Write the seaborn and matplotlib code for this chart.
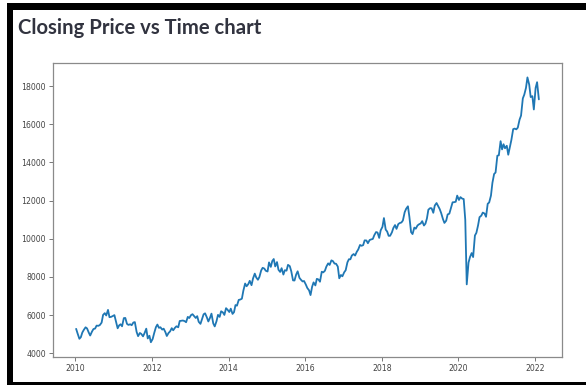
import pandas as pd
import matplotlib
matplotlib.use("Agg")
import matplotlib.pyplot as plt
import matplotlib.dates as mdates
from matplotlib.patches import Rectangle
import seaborn as sns

# Index closing levels, two readings per month (around the 8th and the 22nd)
close_2010 = [5280, 5036, 4760, 4844, 5088, 5225, 5361, 5304, 5090, 4931, 5135, 5269,
              5296, 5449, 5440, 5479, 5607, 6009, 6103, 5982, 6273, 5890, 5910, 5947]
close_2011 = [6000, 5697, 5310, 5459, 5521, 5414, 5842, 5851, 5542, 5486, 5521, 5471,
              5613, 5633, 5118, 4898, 5064, 5012, 4888, 5049, 5290, 4778, 4920, 4580]
close_2012 = [4750, 5048, 5369, 5505, 5333, 5364, 5243, 5290, 5114, 4906, 5068, 5146,
              5316, 5205, 5338, 5415, 5362, 5691, 5704, 5717, 5686, 5627, 5908, 5847]
close_2013 = [6001, 6048, 5938, 5850, 5945, 5651, 5542, 5783, 6043, 6094, 5881, 5667,
              5859, 6077, 5565, 5408, 5680, 6012, 5907, 6202, 6140, 6010, 6363, 6284]
close_2014 = [6162, 6338, 6063, 6155, 6527, 6494, 6796, 6815, 6859, 7276, 7654, 7511,
              7623, 7796, 7568, 7913, 8174, 7971, 7852, 7995, 8337, 8477, 8438, 8324]
close_2015 = [8284, 8761, 8526, 8833, 8938, 8550, 8778, 8377, 8262, 8458, 8124, 8353,
              8328, 8633, 8565, 8300, 7819, 7812, 8129, 8295, 7954, 7856, 7765, 7786]
close_2016 = [7601, 7422, 7298, 7050, 7485, 7714, 7555, 7899, 7866, 7749, 8273, 8238,
              8323, 8541, 8711, 8629, 8867, 8831, 8697, 8693, 8543, 7929, 8102, 8033]
close_2017 = [8243, 8349, 8768, 8926, 8924, 9121, 9198, 9119, 9317, 9438, 9675, 9630,
              9665, 9915, 9908, 9765, 9935, 9964, 9989, 10184, 10350, 10326, 10044, 10440]
close_2018 = [10623, 11083, 10476, 10378, 10154, 10155, 10332, 10564, 10717, 10517, 10768, 10822,
              10852, 10957, 11389, 11570, 11700, 11143, 10348, 10245, 10585, 10526, 10693, 10754]
close_2019 = [10802, 10922, 10693, 10791, 11058, 11521, 11604, 11594, 11359, 11738, 11870, 11724,
              11555, 11346, 11032, 10829, 10946, 11274, 11313, 11588, 11908, 11914, 11937, 12259]
close_2020 = [12030, 12180, 12100, 12080, 10990, 7610, 8750, 9040, 9250, 9040, 10170, 10310,
              10700, 11130, 11210, 11370, 11320, 11150, 11830, 11900, 12260, 12930, 13390, 13470]
close_2021 = [14350, 14370, 15110, 14680, 14950, 14740, 14870, 14400, 14820, 15180, 15740, 15770,
              15730, 15820, 16240, 16450, 17350, 17550, 17900, 18450, 18070, 17420, 17470, 16770]
close_2022 = [17900, 18200, 17300]

closes = (close_2010 + close_2011 + close_2012 + close_2013 + close_2014 + close_2015
          + close_2016 + close_2017 + close_2018 + close_2019 + close_2020 + close_2021
          + close_2022)
dates = pd.date_range("2010-01-01", periods=len(closes), freq="SMS") + pd.Timedelta(days=7)
df = pd.DataFrame({"Date": dates, "Close": closes})

y_ticks = [4000, 6000, 8000, 10000, 12000, 14000, 16000, 18000]

sns.set_style("ticks")
plt.rcParams["font.family"] = ["DejaVu Sans"]
W, H = 586, 385
fig = plt.figure(figsize=(W / 100, H / 100), dpi=100)
fig.patch.set_facecolor("white")

ax = fig.add_axes([53 / W, 1 - 357 / H, (562 - 53) / W, (357 - 63) / H])
sns.lineplot(data=df, x="Date", y="Close", ax=ax, color="#1f77b4", linewidth=1.3)

ax.set_ylim(3806, 19205)
ax.set_yticks(y_ticks)
ax.xaxis.set_major_locator(mdates.YearLocator(2))
ax.xaxis.set_major_formatter(mdates.DateFormatter("%Y"))
ax.set_xlabel("")
ax.set_ylabel("")
ax.tick_params(axis="both", labelsize=5.6, labelcolor="#444444", color="#777777",
               length=3, width=0.7, pad=2)
for side in ["left", "right", "top", "bottom"]:
    ax.spines[side].set_visible(True)
    ax.spines[side].set_color("#8a8a8a")
    ax.spines[side].set_linewidth(0.9)

fig.text(18 / W, 1 - 34 / H, "Closing Price vs Time chart", fontsize=14.6,
         fontweight="bold", family="Lato", color="#31333F", va="baseline")

# Black frame strips
fig.add_artist(Rectangle((7 / W, 1 - 10 / H), 1 - 7 / W, 7 / H,
                         transform=fig.transFigure, color="black", lw=0))
fig.add_artist(Rectangle((7 / W, 0), 6 / W, 1 - 3 / H,
                         transform=fig.transFigure, color="black", lw=0))
fig.add_artist(Rectangle((7 / W, 0), 1 - 7 / W, 3 / H,
                         transform=fig.transFigure, color="black", lw=0))

fig.savefig("out.png", dpi=100)
